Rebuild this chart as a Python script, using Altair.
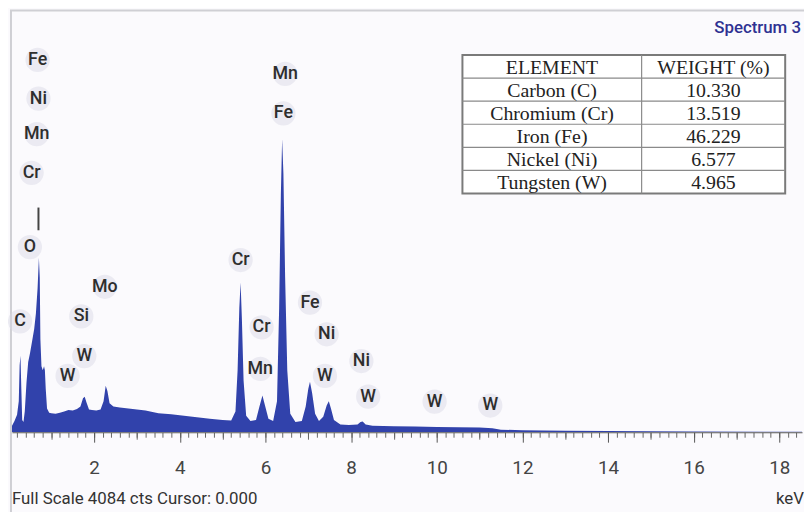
import altair as alt
import pandas as pd

BLUE = "#3142ab"
SANS = "Roboto, Liberation Sans, sans-serif"
SERIF = "Liberation Serif, Times New Roman, serif"

# ---- spectrum (keV, counts) ----
energy_kev = [0.08, 0.14, 0.20, 0.24, 0.26, 0.28, 0.30, 0.32, 0.35, 0.38, 0.42, 0.46,
              0.50, 0.55, 0.60, 0.64, 0.68, 0.71, 0.73, 0.745, 0.77, 0.80, 0.83, 0.85,
              0.87, 0.90, 0.95, 1.00, 1.10, 1.20, 1.30, 1.40, 1.50, 1.60, 1.68, 1.74,
              1.78, 1.82, 1.88, 1.95, 2.05, 2.15, 2.22, 2.27, 2.31, 2.36, 2.45, 2.60,
              2.80, 3.00, 3.20, 3.50, 3.80, 4.10, 4.40, 4.70, 5.00, 5.20, 5.30, 5.35,
              5.39, 5.42, 5.45, 5.49, 5.55, 5.65, 5.78, 5.86, 5.93, 5.99, 6.07, 6.18,
              6.27, 6.32, 6.36, 6.39, 6.42, 6.46, 6.51, 6.58, 6.70, 6.85, 6.94, 7.00,
              7.04, 7.09, 7.16, 7.25, 7.35, 7.43, 7.48, 7.53, 7.60, 7.75, 7.95, 8.15,
              8.22, 8.27, 8.34, 8.50, 9.00, 9.50, 10.00, 10.50, 11.00, 11.30, 11.50,
              12.00, 13.00, 14.00, 16.00, 18.60]
counts = [60, 110, 170, 300, 650, 740, 420, 120, 100, 200, 480, 680,
          760, 880, 1000, 1150, 1400, 1690, 1500, 900, 640, 600, 640, 600,
          420, 230, 190, 185, 180, 190, 200, 215, 210, 225, 250, 330,
          345, 290, 220, 215, 210, 220, 300, 450, 400, 280, 250, 240,
          230, 220, 210, 185, 175, 160, 145, 130, 120, 115, 200, 600,
          1200, 1450, 1100, 500, 160, 110, 120, 250, 355, 260, 130, 110,
          300, 1200, 2300, 2840, 2500, 1500, 600, 180, 100, 110, 250, 420,
          490, 380, 180, 110, 150, 260, 300, 230, 120, 75, 70, 75,
          100, 105, 75, 62, 58, 55, 52, 48, 45, 40, 25,
          20, 15, 12, 8, 5]

# ---- peak labels ----
label_text = ["Fe", "Ni", "Mn", "Cr", "O", "C", "Mo", "Si", "W", "W", "Mn", "Fe",
              "Cr", "Fe", "Cr", "Ni", "Mn", "W", "Ni", "W", "W", "W"]
label_kev = [0.68, 0.70, 0.66, 0.54, 0.50, 0.27, 2.25, 1.70, 1.77, 1.38, 6.46, 6.42,
             5.42, 7.04, 5.91, 7.43, 5.88, 7.39, 8.24, 8.40, 9.95, 11.25]
label_cts = [3605, 3231, 2886, 2512, 1793, 1074, 1409, 1122, 738, 546, 3470, 3087,
             1668, 1256, 1016, 949, 614, 546, 690, 345, 297, 259]
marker_kev = [0.70]
marker_lo = [1956]
marker_hi = [2176]

# ---- table ----
table_header = ["ELEMENT", "WEIGHT (%)"]
table_elements = ["Carbon (C)", "Chromium (Cr)", "Iron (Fe)", "Nickel (Ni)", "Tungsten (W)"]
table_weights = ["10.330", "13.519", "46.229", "6.577", "4.965"]

# ---- axis ticks ----
major_ticks = [2, 4, 6, 8, 10, 12, 14, 16, 18]
mid_ticks = [1, 3, 5, 7, 9, 11, 13, 15, 17]
minor_ticks = [round(0.2 * i, 1) for i in range(1, 93)]

W, H = 798, 426
xscale = alt.Scale(domain=[0.081, 18.53], nice=False, zero=False)
yscale = alt.Scale(domain=[0, 4084], nice=False, zero=True)

spec = pd.DataFrame({"kev": energy_kev, "cts": counts})
labels = pd.DataFrame({"t": label_text, "kev": label_kev, "cts": label_cts})
marker = pd.DataFrame({"kev": marker_kev, "lo": marker_lo, "hi": marker_hi})
one = pd.DataFrame({"a": [0]})

frame = alt.Chart(one).mark_rect(fillOpacity=0, stroke="#cfcfd4", strokeWidth=2).encode(
    x=alt.value(-1), x2=alt.value(806), y=alt.value(0), y2=alt.value(520))

area = alt.Chart(spec).mark_area(color=BLUE, clip=True, interpolate="linear").encode(
    x=alt.X("kev:Q", scale=xscale,
            axis=alt.Axis(values=minor_ticks, labels=False, tickSize=5, tickColor="#666",
                          domainColor="#555", grid=False, title=None, orient="bottom",
                          zindex=1)),
    y=alt.Y("cts:Q", scale=yscale, axis=None))

mid_axis = alt.Chart(pd.DataFrame({"v": mid_ticks})).mark_point(opacity=0).encode(
    x=alt.X("v:Q", scale=xscale,
            axis=alt.Axis(values=mid_ticks, labels=False, tickSize=7, tickColor="#666",
                          domain=False, grid=False, title=None, orient="bottom", zindex=1)))

major_axis = alt.Chart(pd.DataFrame({"v": major_ticks})).mark_point(opacity=0).encode(
    x=alt.X("v:Q", scale=xscale,
            axis=alt.Axis(values=major_ticks, tickSize=10, tickColor="#555", domain=False,
                          grid=False, title=None, orient="bottom", labelFont=SANS,
                          labelFontSize=19, labelColor="#444", labelPadding=17,
                          format="d", zindex=1)))

bubbles = alt.Chart(labels).mark_circle(size=600, color="#d8d8e4", opacity=0.45).encode(
    x=alt.X("kev:Q", scale=xscale, axis=None), y=alt.Y("cts:Q", scale=yscale, axis=None))

texts = alt.Chart(labels).mark_text(font=SANS, fontSize=18, fontWeight=500, color="#2e2e2e",
                                    baseline="middle", align="center").encode(
    x=alt.X("kev:Q", scale=xscale, axis=None), y=alt.Y("cts:Q", scale=yscale, axis=None),
    text="t:N")

mark_rule = alt.Chart(marker).mark_rule(color="#444", strokeWidth=2).encode(
    x=alt.X("kev:Q", scale=xscale, axis=None), y=alt.Y("lo:Q", scale=yscale, axis=None),
    y2="hi:Q")

# table geometry (pixel positions within the plot area)
tx0, tx1, tdiv = 455, 781, 636
ty0, row_h = 45, 23.3
nrows = 1 + len(table_elements)
table_layers = [alt.Chart(one).mark_rect(fill="white", stroke="#7a7a7a", strokeWidth=2).encode(
    x=alt.value(tx0), x2=alt.value(tx1), y=alt.value(ty0), y2=alt.value(ty0 + nrows * row_h))]
for i in range(1, nrows):
    table_layers.append(alt.Chart(one).mark_rule(color="#8a8a8a", strokeWidth=1.2).encode(
        x=alt.value(tx0), x2=alt.value(tx1), y=alt.value(ty0 + i * row_h)))
table_layers.append(alt.Chart(one).mark_rule(color="#8a8a8a", strokeWidth=1.2).encode(
    x=alt.value(tdiv), y=alt.value(ty0), y2=alt.value(ty0 + nrows * row_h)))
col1 = [table_header[0]] + table_elements
col2 = [table_header[1]] + table_weights
for i in range(nrows):
    yc = ty0 + (i + 0.5) * row_h + 1
    table_layers.append(alt.Chart(one).mark_text(font=SERIF, fontSize=20, color="#222",
                                                 baseline="middle", align="center").encode(
        x=alt.value((tx0 + tdiv) / 2), y=alt.value(yc), text=alt.value(col1[i])))
    table_layers.append(alt.Chart(one).mark_text(font=SERIF, fontSize=20, color="#222",
                                                 baseline="middle", align="center").encode(
        x=alt.value((tdiv + tx1) / 2), y=alt.value(yc), text=alt.value(col2[i])))

title = alt.Chart(one).mark_text(font=SANS, fontSize=17, fontWeight=500, color="#2e3192",
                                 align="right", baseline="middle").encode(
    x=alt.value(797), y=alt.value(18), text=alt.value("Spectrum 3"))
footer = alt.Chart(one).mark_text(font=SANS, fontSize=17, color="#333", align="left",
                                  baseline="middle").encode(
    x=alt.value(0), y=alt.value(493), text=alt.value("Full Scale 4084 cts Cursor: 0.000"))
kev_txt = alt.Chart(one).mark_text(font=SANS, fontSize=17, color="#333", align="right",
                                   baseline="middle").encode(
    x=alt.value(800), y=alt.value(493), text=alt.value("keV"))

chart = alt.layer(frame, area, mid_axis, major_axis, bubbles, texts, mark_rule,
                  *table_layers, title, footer, kev_txt).resolve_axis(
    x="independent").properties(
    width=W, height=H,
    padding={"left": 4, "top": 0, "right": 2, "bottom": 78},
    autosize=alt.AutoSizeParams(type="none"),
    background="#fbfafd",
).configure_view(stroke=None)

chart.save("out.html", embed_options={"renderer": "svg", "actions": False})
